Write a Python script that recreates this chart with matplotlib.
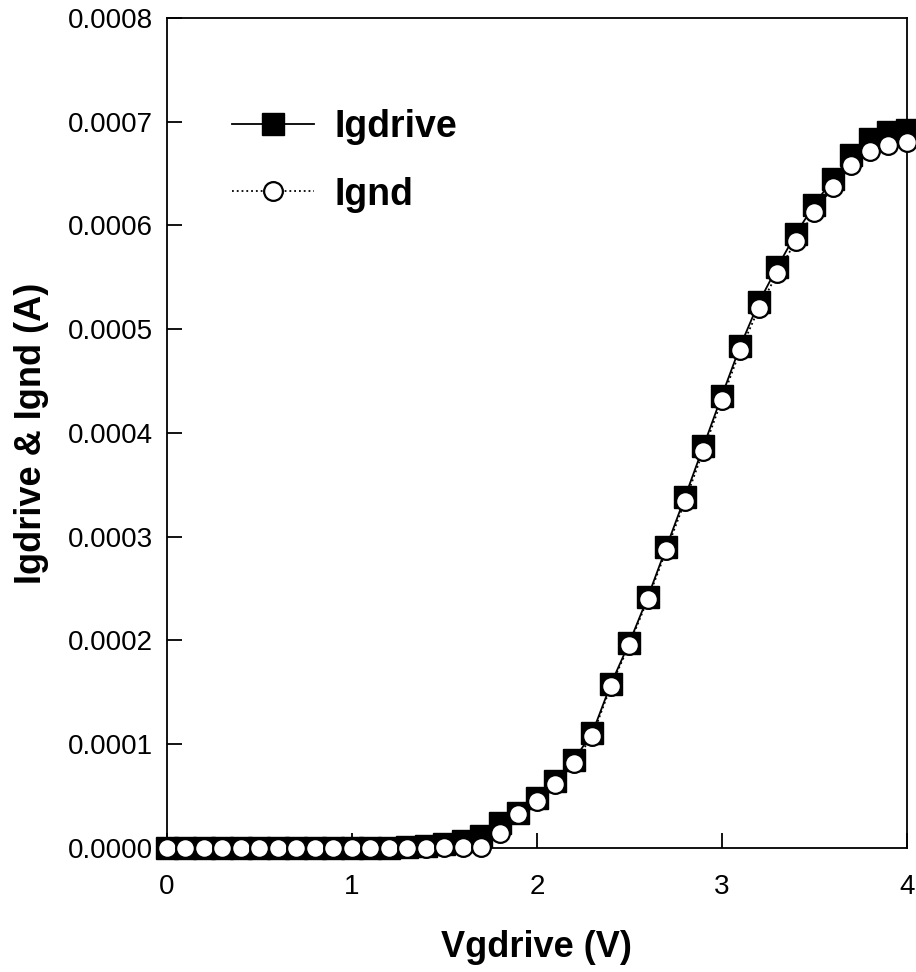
import matplotlib.pyplot as plt
import numpy as np

plt.rcParams['font.family'] = ['Liberation Sans', 'DejaVu Sans']

vg = np.round(np.arange(0, 4.01, 0.1), 1)

igdrive = [0, 0, 0, 0, 0, 0, 0, 0, 0, 0,
           0, 0, 0, 0.000001, 0.000002, 0.000004, 0.000007, 0.000012, 0.000024, 0.000034,
           0.000048, 0.000065, 0.000085, 0.000111, 0.000158, 0.000198, 0.000242, 0.00029, 0.000338, 0.000387,
           0.000436, 0.000484, 0.000526, 0.00056, 0.000592, 0.00062, 0.000645, 0.000668, 0.000683, 0.00069,
           0.000692]

ignd = [0, 0, 0, 0, 0, 0, 0, 0, 0, 0,
        0, 0, 0, 0, 0, 0.000001, 0.000001, 0.000001, 0.000014, 0.000033,
        0.000045, 0.000062, 0.000082, 0.000108, 0.000156, 0.000196, 0.00024, 0.000287, 0.000334, 0.000383,
        0.000432, 0.00048, 0.00052, 0.000554, 0.000585, 0.000613, 0.000637, 0.000658, 0.000672, 0.000678,
        0.00068]

fig = plt.figure(figsize=(9.16, 9.72), dpi=100)
ax = fig.add_axes([0.1823, 0.1276, 0.8077, 0.8539])

ax.plot(vg, igdrive, '-', color='black', lw=1.3, marker='s', ms=15.5,
        mfc='black', mec='black', label='Igdrive', clip_on=False, zorder=3)
ax.plot(vg, ignd, ':', color='black', lw=1.3, marker='o', ms=13.5,
        mfc='white', mec='black', mew=1.6, label='Ignd', clip_on=False, zorder=4)

ax.set_xlim(0, 4)
ax.set_ylim(0, 0.0008)
ax.set_xticks([0, 1, 2, 3, 4])
ax.set_yticks(np.arange(0, 0.00081, 0.0001))
ax.set_yticklabels([f'{v:.4f}' for v in np.arange(0, 0.00081, 0.0001)])
ax.tick_params(direction='in', length=11, width=1.3, labelsize=20)
ax.tick_params(axis='x', pad=19)
ax.tick_params(axis='y', pad=10)
for s in ax.spines.values():
    s.set_linewidth(1.3)

ax.set_xlabel('Vgdrive (V)', fontsize=26, fontweight='bold', labelpad=21)
ax.set_ylabel('Igdrive & Ignd (A)', fontsize=26, fontweight='bold', labelpad=14)

leg = ax.legend(loc='upper left', bbox_to_anchor=(0.042, 0.931), frameon=False,
                handlelength=2.2, handletextpad=0.55, labelspacing=0.84,
                prop={'size': 27, 'weight': 'bold'})

fig.savefig('out.png', dpi=100)
